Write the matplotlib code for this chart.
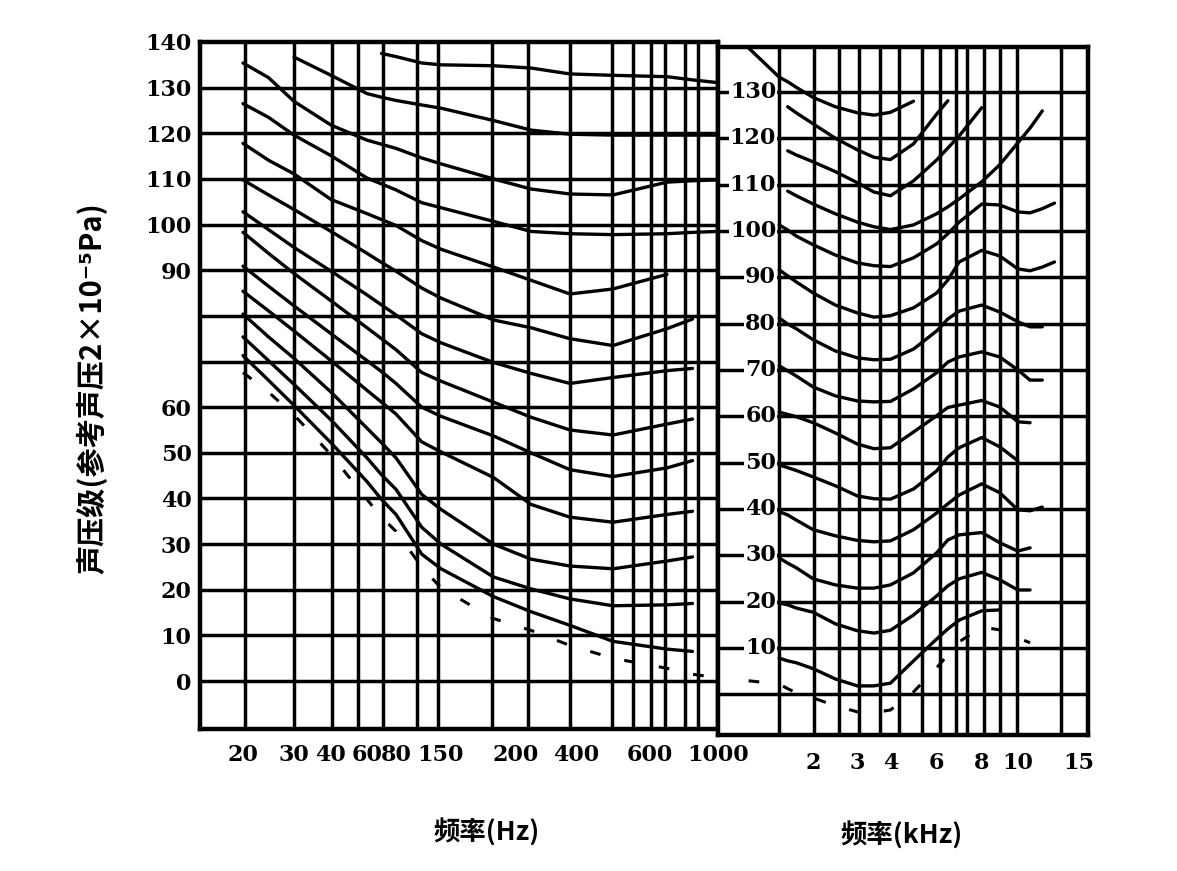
import numpy as np
import matplotlib
matplotlib.use("Agg")
import matplotlib.pyplot as plt

nan = np.nan

# ---------------- data ----------------
# Left panel: frequency in Hz, sound pressure level in dB for each equal-loudness curve
LEFT_FREQ_HZ = [20, 25, 30, 40, 60, 70, 80, 120, 150, 185, 250, 380, 500, 700, 850, 1000]
L130 = [nan, nan, nan, nan, nan, 137.5, 136.8, 135.4, 135.0, 134.8, 134.3, 133.0, 132.7, 132.4, 131.7, 131.1]
L120 = [nan, nan, 136.7, 132.7, 128.7, 127.9, 127.2, 126.2, 125.5, 122.8, 120.7, 119.8, 119.6, 119.6, 119.6, 119.6]
L110 = [135.4, 132.2, 127.0, 121.8, 118.5, 117.6, 116.7, 114.6, 113.3, 110.0, 107.8, 106.7, 106.5, 109.3, 109.6, 109.8]
L100 = [126.5, 123.5, 119.6, 115.1, 110.2, 108.9, 107.6, 104.8, 103.7, 100.7, 98.5, 98.0, 97.8, 98.0, 98.3, 98.5]
L90 = [117.8, 114.1, 111.1, 105.5, 102.4, 101.1, 99.8, 96.5, 94.6, 90.7, 87.8, 84.8, 85.9, 89.1, nan, nan]
L80 = [109.8, 106.5, 103.3, 98.5, 93.7, 91.7, 89.8, 86.1, 83.9, 79.1, 77.4, 75.0, 73.5, 77.2, 79.3, nan]
L70 = [102.8, 98.9, 95.0, 89.8, 84.6, 82.4, 80.2, 76.1, 74.1, 69.8, 67.4, 65.2, 66.5, 68.0, 68.5, nan]
L60 = [98.3, 93.7, 89.3, 83.3, 77.4, 75.0, 72.6, 67.6, 65.7, 61.1, 57.8, 55.0, 53.9, 56.3, 57.4, nan]
L50 = [90.9, 86.5, 82.2, 76.1, 70.2, 67.8, 65.2, 60.0, 58.0, 53.7, 50.0, 46.3, 44.8, 46.7, 48.3, nan]
L40 = [85.4, 81.1, 76.7, 70.2, 63.7, 61.1, 58.5, 52.4, 50.2, 44.6, 38.7, 35.9, 34.8, 36.5, 37.2, nan]
L30 = [80.4, 75.4, 70.7, 63.3, 55.4, 52.2, 48.9, 40.9, 37.6, 30.0, 26.7, 25.2, 24.6, 26.3, 27.2, nan]
L20 = [75.4, 70.2, 65.0, 57.2, 48.9, 45.2, 42.0, 33.7, 30.0, 22.8, 20.2, 18.0, 16.5, 16.7, 17.0, nan]
L10 = [71.3, 65.9, 60.4, 52.2, 43.7, 39.8, 36.5, 27.8, 24.6, 18.5, 15.2, 12.2, 8.7, 7.0, 6.5, nan]
L_THRESHOLD = [67.6, 63.3, 58.3, 49.6, 39.8, 35.9, 32.8, 25.0, 20.4, 13.7, 11.1, 7.8, 5.0, 2.8, 1.5, 0.7]
LEFT_CURVES = [L130, L120, L110, L100, L90, L80, L70, L60, L50, L40, L30, L20, L10]

# Right panel: frequency in kHz
RIGHT_FREQ_KHZ = [0.85, 1, 1.25, 1.5, 2, 2.5, 3, 3.5, 4, 5, 6, 6.5, 7, 8, 9, 10, 11, 12, 13]
R130 = [139.5, 133.2, 132.2, 131.0, 128.8, 126.8, 125.5, 125.0, 125.6, 128.0, nan, nan, nan, nan, nan, nan, nan, nan, nan]
R120 = [nan, nan, 126.8, 125.5, 123.1, 120.0, 117.5, 115.9, 115.4, 118.8, 125.2, 128.1, nan, nan, nan, nan, nan, nan, nan]
R110 = [nan, nan, 117.3, 116.4, 114.9, 112.8, 110.4, 108.4, 107.6, 110.8, 115.3, 117.9, 120.5, 126.6, nan, nan, nan, nan, nan]
R100 = [nan, nan, 108.6, 107.6, 105.8, 103.7, 101.9, 100.9, 100.3, 101.3, 103.7, 105.2, 106.9, 110.6, 114.3, 119.0, 122.2, 125.9, nan]
R90 = [nan, 101.3, 100.2, 98.9, 97.0, 94.8, 93.1, 92.5, 92.3, 94.2, 97.2, 99.4, 101.9, 105.8, 105.6, 104.1, 103.9, 104.8, 106.0]
R80 = [nan, 91.6, 90.3, 89.0, 86.6, 84.0, 82.3, 81.4, 81.7, 83.4, 86.6, 89.4, 93.3, 95.8, 94.6, 91.8, 91.4, 92.2, 93.3]
R70 = [nan, 81.2, 79.9, 78.9, 76.5, 74.1, 72.6, 72.2, 72.3, 74.5, 78.4, 81.0, 82.7, 84.0, 82.5, 80.4, 79.3, 79.3, nan]
R60 = [nan, 70.9, 69.8, 68.7, 66.3, 64.4, 63.3, 63.1, 63.2, 65.9, 69.4, 71.7, 72.8, 73.9, 72.8, 70.0, 67.8, 67.8, nan]
R50 = [nan, 60.9, 60.4, 59.9, 58.6, 56.4, 54.0, 53.0, 53.2, 56.6, 60.1, 61.9, 62.4, 63.4, 62.0, 58.8, 58.6, nan, nan]
R40 = [nan, 49.5, 48.9, 48.3, 46.9, 45.0, 42.8, 42.2, 42.1, 44.3, 48.2, 51.2, 53.2, 55.4, 53.4, 50.4, nan, nan, nan]
R30 = [nan, 39.4, 38.7, 37.6, 35.5, 34.2, 33.2, 32.9, 33.1, 35.5, 39.1, 41.1, 43.0, 45.4, 43.5, 39.8, 39.6, 40.4, nan]
R20 = [nan, 29.4, 28.3, 27.3, 24.9, 23.6, 22.9, 22.9, 23.6, 26.2, 30.5, 33.3, 34.4, 34.9, 32.7, 30.9, 31.6, nan, nan]
R10 = [nan, 19.7, 19.3, 18.6, 17.7, 15.2, 13.7, 13.2, 13.8, 17.1, 21.2, 23.4, 24.9, 26.3, 24.7, 22.5, 22.5, nan, nan]
R0 = [nan, 7.8, 7.2, 6.8, 5.5, 3.3, 1.8, 1.8, 2.4, 7.2, 11.9, 14.1, 16.0, 18.0, 18.2, nan, nan, nan, nan]
R_THRESHOLD = [2.9, 2.2, 1.2, 0.3, -0.8, -2.5, -3.8, -4.0, -3.4, 0.5, 5.7, 8.5, 11.3, 14.5, 13.9, 12.2, 11.1, nan, nan]
RIGHT_CURVES = [R130, R120, R110, R100, R90, R80, R70, R60, R50, R40, R30, R20, R10, R0]

# Tick labels
LEFT_XTICKS_HZ = [20, 30, 40, 60, 80, 150, 200, 400, 600, 1000]
RIGHT_XTICKS_KHZ = [2, 3, 4, 6, 8, 10, 15]
LEFT_YTICKS = [140, 130, 120, 110, 100, 90, 60, 50, 40, 30, 20, 10, 0]
RIGHT_YTICKS = [130, 120, 110, 100, 90, 80, 70, 60, 50, 40, 30, 20, 10]

# Grid of the printed chart
LEFT_VGRID_HZ = [20.4, 30, 40.6, 55, 71, 113, 145, 184, 240, 380, 497, 554, 606, 688, 806, 882]
RIGHT_VGRID_KHZ = [1, 2.02, 2.59, 3.06, 3.67, 4.39, 5.35, 6.13, 6.84, 7.33, 8.11, 9, 9.94, 13.52]
LEFT_HGRID = list(range(0, 140, 10))
RIGHT_HGRID = list(range(0, 140, 10))

# ---------------- axis layout (irregular printed frequency axis) ----------------
LEFT_SCALE_F = [14, 20, 30, 40, 60, 80, 150, 200, 400, 600, 1000]
LEFT_SCALE_P = [200, 243, 294, 331, 367, 396, 441, 516, 576, 650, 718]
RIGHT_SCALE_F = [0.7, 1, 2, 3, 4, 6, 8, 10, 15, 15.5]
RIGHT_SCALE_P = [719, 780, 814, 858, 891, 937, 982, 1018, 1079, 1088]


def make_funcs(fa, pa):
    fa = np.asarray(fa, float)
    pa = np.asarray(pa, float)

    def fwd(x):
        return np.interp(np.asarray(x, float), fa, pa)

    def inv(p):
        return np.interp(np.asarray(p, float), pa, fa)
    return fwd, inv


W, H = 1177, 871
fig = plt.figure(figsize=(W / 100, H / 100), dpi=100)
fig.patch.set_facecolor("white")

axL = fig.add_axes([200 / W, 1 - 729 / H, 518 / W, 687 / H])
axR = fig.add_axes([718 / W, 1 - 735 / H, 370 / W, 688 / H])

GRID_LW = 2.5
CURVE_LW = 2.4
SERIF = dict(fontfamily="DejaVu Serif", fontweight="bold", fontsize=16)

# ---- left panel ----
axL.set_xscale("function", functions=make_funcs(LEFT_SCALE_F, LEFT_SCALE_P))
axL.set_xlim(14, 1000)
axL.set_ylim(-10.5, 140)
for f in LEFT_VGRID_HZ:
    axL.axvline(f, color="black", lw=GRID_LW, zorder=1)
for lv in LEFT_HGRID:
    axL.axhline(lv, color="black", lw=GRID_LW, zorder=1)
for c in LEFT_CURVES:
    axL.plot(LEFT_FREQ_HZ, c, color="black", lw=CURVE_LW, zorder=3,
             solid_capstyle="round", solid_joinstyle="round")
axL.plot(LEFT_FREQ_HZ, L_THRESHOLD, color="black", lw=2.2, zorder=3,
         linestyle=(0, (3.5, 8)))
axL.set_xticks(LEFT_XTICKS_HZ, [str(v) for v in LEFT_XTICKS_HZ], **SERIF)
axL.set_yticks(LEFT_YTICKS, [str(v) for v in LEFT_YTICKS], **SERIF)
axL.minorticks_off()
axL.tick_params(axis="both", length=0)
axL.tick_params(axis="x", pad=11)
axL.tick_params(axis="y", pad=6)
for s in axL.spines.values():
    s.set_linewidth(3.2)

# ---- right panel ----
axR.set_xscale("function", functions=make_funcs(RIGHT_SCALE_F, RIGHT_SCALE_P))
axR.set_xlim(0.7, 15.5)
axR.set_ylim(-8.8, 139.7)
for f in RIGHT_VGRID_KHZ:
    axR.axvline(f, color="black", lw=GRID_LW, zorder=1)
for lv in RIGHT_HGRID:
    axR.axhline(lv, color="black", lw=GRID_LW, zorder=1)
for c in RIGHT_CURVES:
    axR.plot(RIGHT_FREQ_KHZ, c, color="black", lw=CURVE_LW, zorder=3,
             solid_capstyle="round", solid_joinstyle="round")
axR.plot(RIGHT_FREQ_KHZ, R_THRESHOLD, color="black", lw=2.2, zorder=3,
         linestyle=(0, (3.5, 8)))
for lv in RIGHT_YTICKS:
    axR.text(0.985, lv, str(lv), ha="right", va="center", zorder=5,
             bbox=dict(facecolor="white", edgecolor="none", pad=0.6), **SERIF)
axR.set_xticks(RIGHT_XTICKS_KHZ, [str(v) for v in RIGHT_XTICKS_KHZ], **SERIF)
axR.set_yticks([])
axR.minorticks_off()
axR.tick_params(axis="both", length=0)
axR.tick_params(axis="x", pad=12)
for s in axR.spines.values():
    s.set_linewidth(3.2)

# ---- axis titles ----
CJK = ["Noto Sans CJK SC", "DejaVu Sans"]
fig.text(487 / W, 1 - 832 / H, "频率(Hz)", ha="center", va="center",
         fontsize=19, fontweight="bold", family=CJK)
fig.text(902 / W, 1 - 835 / H, "频率(kHz)", ha="center", va="center",
         fontsize=19, fontweight="bold", family=CJK)
fig.text(92 / W, 1 - 388 / H, "声压级(参考声压2×10⁻⁵Pa)", ha="center", va="center",
         rotation=90, fontsize=21, fontweight="bold", family=CJK)

fig.savefig("out.png", dpi=100, facecolor="white")
